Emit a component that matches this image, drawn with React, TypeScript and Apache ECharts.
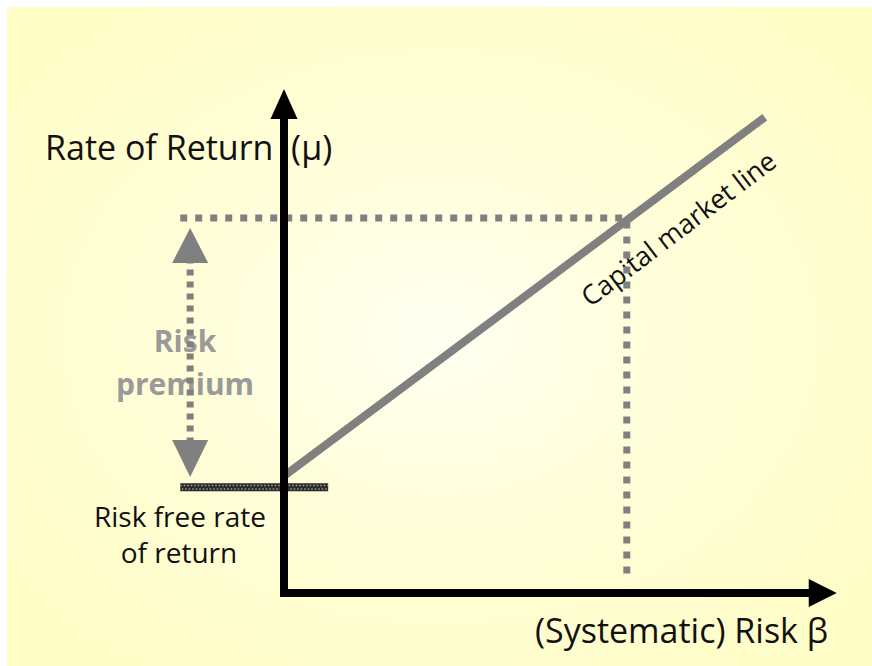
import React, { useEffect, useRef } from "react";
import * as echarts from "echarts";

// Axis frame (beta, return): top of y-axis, origin, end of x-axis
const axisBeta = [0, 0, 9.76];
const axisReturn = [9.7, 0, 0];
// Capital market line
const cmlBeta = [0, 8.71];
const cmlReturn = [2.32, 9.44];
// Market point guides
const guideBeta = [-1.88, 6.21, 6.21];
const guideReturn = [7.44, 7.44, 0.28];
// Risk-free rate bar
const riskFreeBeta = [-1.88, 0.8];
const riskFreeRate = 2.1;
// Risk premium double arrow
const premiumBeta = -1.7;
const premiumReturn = [6.895, 2.67];

const FONT = "'Open Sans'";

export default function App() {
  const ref = useRef<HTMLDivElement>(null);
  useEffect(() => {
    const chart = echarts.init(ref.current!, undefined, { renderer: "svg" });
    const gray = "#808080";
    const option: any = {
      animation: false,
      grid: { left: 8, right: 36, top: 89, bottom: 73 },
      xAxis: { type: "value", min: -5, max: 10, show: false },
      yAxis: { type: "value", min: 0, max: 10, show: false },
      graphic: [
        {
          type: "rect",
          z: -10,
          shape: { x: 7, y: 7, width: 865, height: 659 },
          style: {
            fill: new echarts.graphic.RadialGradient(0.5, 0.5, 0.6, [
              { offset: 0, color: "#FFFFF2" },
              { offset: 0.45, color: "#FFFEDA" },
              { offset: 1, color: "#FFFDC8" },
            ]),
          },
        },
        {
          type: "text", x: 45, y: 147, z: 0,
          style: { text: "Rate of Return  (μ)", font: `34px ${FONT}`, fill: "#111", textVerticalAlign: "middle" },
        },
        {
          type: "text", x: 535, y: 630, z: 0,
          style: { text: "(Systematic) Risk β", font: `34px ${FONT}`, fill: "#111", textVerticalAlign: "middle" },
        },
        {
          type: "text", x: 185, y: 340, z: 0,
          style: { text: "Risk", font: `bold 30px ${FONT}`, fill: "#9a9a9a", textAlign: "center", textVerticalAlign: "middle" },
        },
        {
          type: "text", x: 185, y: 383, z: 0,
          style: { text: "premium", font: `bold 30px ${FONT}`, fill: "#9a9a9a", textAlign: "center", textVerticalAlign: "middle" },
        },
        {
          type: "text", x: 180, y: 516, z: 0,
          style: { text: "Risk free rate", font: `28px ${FONT}`, fill: "#111", textAlign: "center", textVerticalAlign: "middle" },
        },
        {
          type: "text", x: 179, y: 552, z: 0,
          style: { text: "of return", font: `28px ${FONT}`, fill: "#111", textAlign: "center", textVerticalAlign: "middle" },
        },
        {
          type: "text", x: 678, y: 228, z: 0, rotation: (37.2 * Math.PI) / 180,
          style: { text: "Capital market line", font: `27px ${FONT}`, fill: "#111", textAlign: "center", textVerticalAlign: "middle" },
        },
      ],
      series: [
        {
          type: "line", z: 3, silent: true,
          data: guideBeta.map((b, i) => [b, guideReturn[i]]),
          showSymbol: false,
          lineStyle: { color: gray, width: 7, type: [7, 8], cap: "butt" },
        },
        {
          type: "line", z: 4, silent: true,
          data: cmlBeta.map((b, i) => [b, cmlReturn[i]]),
          showSymbol: false,
          lineStyle: { color: gray, width: 8, cap: "butt" },
        },
        {
          type: "line", z: 3, silent: true,
          data: [
            { value: [premiumBeta, premiumReturn[0]], symbol: "triangle", symbolSize: [36, 35] },
            { value: [premiumBeta, premiumReturn[1]], symbol: "triangle", symbolSize: [36, 37], symbolRotate: 180 },
          ],
          showSymbol: true,
          itemStyle: { color: gray },
          lineStyle: { color: gray, width: 7, type: [6, 6], cap: "butt" },
        },
        {
          type: "line", z: 5, silent: true,
          data: riskFreeBeta.map((b) => [b, riskFreeRate]),
          showSymbol: false,
          lineStyle: { color: "#2a2a2a", width: 8, cap: "butt" },
        },
        {
          type: "line", z: 6, silent: true,
          data: riskFreeBeta.map((b) => [b, riskFreeRate + 0.035]),
          showSymbol: false,
          lineStyle: { color: "#a0a0a0", width: 1.5, type: [1.5, 2], cap: "butt" },
        },
        {
          type: "line", z: 6, silent: true,
          data: riskFreeBeta.map((b) => [b, riskFreeRate - 0.035]),
          showSymbol: false,
          lineStyle: { color: "#a0a0a0", width: 1.5, type: [1.5, 2], dashOffset: 1.75, cap: "butt" },
        },
        {
          type: "line", z: 7, silent: true,
          data: [
            { value: [axisBeta[0], axisReturn[0]], symbol: "triangle", symbolSize: [27, 30] },
            { value: [axisBeta[1], axisReturn[1]], symbol: "none" },
            { value: [axisBeta[2], axisReturn[2]], symbol: "triangle", symbolSize: [28, 28], symbolRotate: -90 },
          ],
          showSymbol: true,
          itemStyle: { color: "#000" },
          lineStyle: { color: "#000", width: 8, join: "miter", cap: "butt" },
        },
      ],
    };
    chart.setOption(option);
    return () => chart.dispose();
  }, []);
  return (
    <div
      ref={ref}
      style={{ position: "absolute", left: 0, top: 0, width: 872, height: 666, background: "#fff" }}
    />
  );
}
